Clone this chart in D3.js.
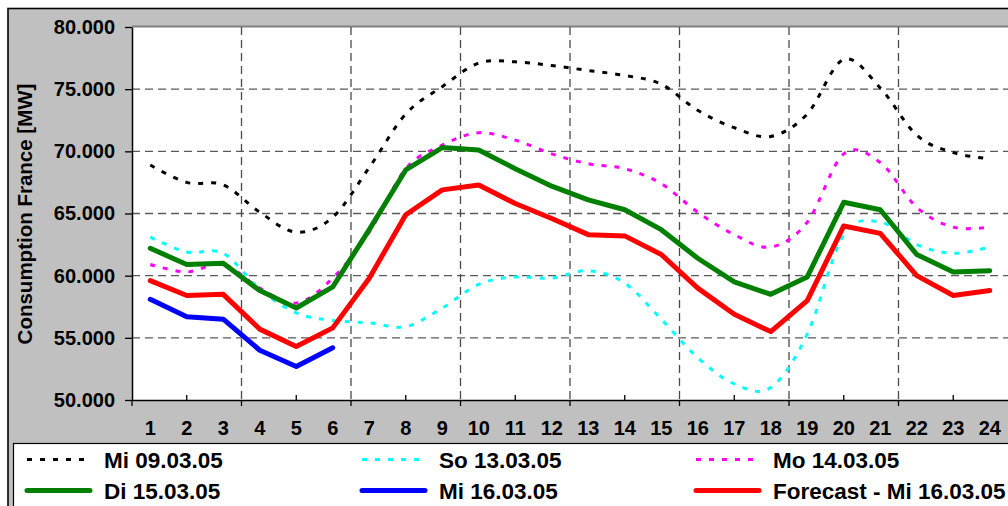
<!DOCTYPE html>
<html>
<head>
<meta charset="utf-8">
<script src="https://cdn.jsdelivr.net/npm/d3@7"></script>
<style>
  html, body { margin: 0; padding: 0; background: #fff; overflow: hidden; }
  svg { display: block; font-family: "Liberation Sans", Arial, sans-serif; font-weight: bold; }
</style>
</head>
<body>
<div id="container"></div>
<script>
// hours of the day
const hours = [1, 2, 3, 4, 5, 6, 7, 8, 9, 10, 11, 12, 13, 14, 15, 16, 17, 18, 19, 20, 21, 22, 23, 24];
const yTicks = [50000, 55000, 60000, 65000, 70000, 75000, 80000];

// consumption in MW
const mi0903 = [68900, 67500, 67300, 65100, 63500, 64700, 68700, 73000, 75200, 77100, 77200, 76900,
                76500, 76100, 75400, 73300, 71900, 71200, 73000, 77400, 75100, 71300, 69900, 69400];
const so1303 = [63100, 61900, 61800, 58900, 57000, 56400, 56200, 55900, 57400, 59300, 59900, 59800,
                60400, 59400, 56500, 53400, 51300, 51000, 55300, 63300, 64300, 62500, 61800, 62300];
const mo1403 = [60900, 60300, 60900, 59000, 57800, 59800, 63500, 68600, 70500, 71500, 70900, 69800,
                69000, 68600, 67400, 65100, 63300, 62300, 64300, 69800, 69100, 65500, 63900, 63900];
const di1503 = [62200, 60900, 61000, 58800, 57400, 59100, 63700, 68500, 70300, 70100, 68600, 67200,
                66100, 65300, 63700, 61400, 59500, 58500, 59900, 65900, 65300, 61700, 60300, 60400];
const mi1603 = [58100, 56700, 56500, 54000, 52700, 54200];
const forecast1603 = [59600, 58400, 58500, 55700, 54300, 55800, 59800, 64900, 66900, 67300, 65800, 64600,
                      63300, 63200, 61700, 59000, 56900, 55500, 58000, 64000, 63400, 60000, 58400, 58800];

const seriesNames = ["Mi 09.03.05", "So 13.03.05", "Mo 14.03.05", "Di 15.03.05", "Mi 16.03.05", "Forecast - Mi 16.03.05"];
const seriesValues = [mi0903, so1303, mo1403, di1503, mi1603, forecast1603];

const styles = [
    {color: "#000000", width: 3, dash: "5,8", smooth: true},
    {color: "#00ffff", width: 3, dash: "5,8", smooth: true},
    {color: "#ff00ff", width: 3, dash: "5,8", smooth: true},
    {color: "#008000", width: 5, dash: null, smooth: false},
    {color: "#0000ff", width: 5, dash: null, smooth: false},
    {color: "#ff0000", width: 5, dash: null, smooth: false}
];

const width = 1008;
const height = 506;
const plotLeft = 132;
const plotRight = 1008;
const plotTop = 27;
const plotBottom = 400;

const fmt = d3.formatLocale({decimal: ",", thousands: ".", grouping: [3], currency: ["", ""]}).format(",.0f");

const x = d3.scaleBand().domain(hours).range([plotLeft, plotRight]).padding(0);
const cx = h => x(h) + x.bandwidth() / 2;
const y = d3.scaleLinear([50000, 80000], [plotBottom, plotTop]);

const svg = d3.create("svg")
    .attr("width", width)
    .attr("height", height)
    .attr("viewBox", [0, 0, width, height]);

// grey chart background with black frame
svg.append("rect")
    .attr("x", 8).attr("y", 8.5)
    .attr("width", width + 10).attr("height", height + 10)
    .attr("fill", "#c0c0c0")
    .attr("stroke", "#000").attr("stroke-width", 1.6);

// plot area
svg.append("rect")
    .attr("x", plotLeft).attr("y", plotTop)
    .attr("width", plotRight - plotLeft + 5).attr("height", plotBottom - plotTop)
    .attr("fill", "#fff");
svg.append("line")
    .attr("x1", plotLeft).attr("x2", width)
    .attr("y1", plotTop - 0.5).attr("y2", plotTop - 0.5)
    .attr("stroke", "#808080").attr("stroke-width", 2);

// horizontal grid lines
svg.append("g")
    .selectAll("line")
    .data(yTicks.filter(d => d > 50000 && d < 80000))
    .join("line")
    .attr("x1", plotLeft).attr("x2", plotRight)
    .attr("y1", d => y(d)).attr("y2", d => y(d))
    .attr("stroke", "#5a5a5a").attr("stroke-width", 1.3)
    .attr("stroke-dasharray", "8,5");

// vertical grid lines every 3 hours (between categories)
const gridHours = hours.filter(h => h % 3 === 0 && h < 24);
svg.append("g")
    .selectAll("line")
    .data(gridHours)
    .join("line")
    .attr("x1", d => x(d) + x.bandwidth()).attr("x2", d => x(d) + x.bandwidth())
    .attr("y1", plotTop).attr("y2", plotBottom)
    .attr("stroke", "#4a4a4a").attr("stroke-width", 1.3)
    .attr("stroke-dasharray", "8,5");

// major ticks below the axis
svg.append("g")
    .selectAll("line")
    .data([0].concat(gridHours))
    .join("line")
    .attr("x1", d => d === 0 ? plotLeft : x(d) + x.bandwidth())
    .attr("x2", d => d === 0 ? plotLeft : x(d) + x.bandwidth())
    .attr("y1", plotBottom).attr("y2", plotBottom + 6)
    .attr("stroke", "#000").attr("stroke-width", 1.3);

// minor ticks inside, every 1.5 categories
svg.append("g")
    .selectAll("line")
    .data(hours.filter(h => h % 3 === 2))
    .join("line")
    .attr("x1", d => cx(d)).attr("x2", d => cx(d))
    .attr("y1", plotBottom - 5).attr("y2", plotBottom)
    .attr("stroke", "#000").attr("stroke-width", 1.3);

// x axis
svg.append("g")
    .attr("transform", `translate(0,${plotBottom})`)
    .call(d3.axisBottom(x).tickSize(0).tickPadding(21).tickSizeOuter(0))
    .call(g => g.select(".domain").attr("stroke", "#000").attr("stroke-width", 1.5))
    .call(g => g.selectAll("text")
        .attr("font-family", "Liberation Sans, Arial, sans-serif")
        .attr("font-weight", "bold")
        .attr("font-size", 20)
        .attr("fill", "#000"));

// y axis
svg.append("g")
    .attr("transform", `translate(${plotLeft},0)`)
    .call(d3.axisLeft(y).tickValues(yTicks).tickFormat(fmt).tickSize(7).tickPadding(10).tickSizeOuter(0))
    .call(g => g.select(".domain").attr("stroke", "#000").attr("stroke-width", 1.5))
    .call(g => g.selectAll(".tick line").attr("stroke", "#000").attr("stroke-width", 1.3))
    .call(g => g.selectAll("text")
        .attr("font-family", "Liberation Sans, Arial, sans-serif")
        .attr("font-weight", "bold")
        .attr("font-size", 20)
        .attr("fill", "#000"));

// y axis title
svg.append("text")
    .attr("transform", "translate(32,214) rotate(-90)")
    .attr("text-anchor", "middle")
    .attr("font-size", 20.5)
    .attr("fill", "#000")
    .text("Consumption France [MW]");

// series lines
seriesValues.forEach(function(values, i) {
    const s = styles[i];
    const line = d3.line()
        .x((d, j) => cx(hours[j]))
        .y(d => y(d))
        .curve(s.smooth ? d3.curveCatmullRom.alpha(0) : d3.curveLinear);
    svg.append("path")
        .attr("fill", "none")
        .attr("stroke", s.color)
        .attr("stroke-width", s.width)
        .attr("stroke-dasharray", s.dash)
        .attr("stroke-linejoin", "round")
        .attr("stroke-linecap", s.dash ? "butt" : "round")
        .attr("d", line(values));
});

// legend
svg.append("rect")
    .attr("x", 13.5).attr("y", 443.5)
    .attr("width", width).attr("height", 100)
    .attr("fill", "#fff")
    .attr("stroke", "#000").attr("stroke-width", 1.2);

const legendCols = [27, 362, 696];
const legendRows = [459.5, 490.5];
const legend = svg.append("g");
seriesNames.forEach(function(name, i) {
    const s = styles[i];
    const lx = legendCols[i % 3];
    const ly = legendRows[Math.floor(i / 3)];
    legend.append("line")
        .attr("x1", lx).attr("x2", lx + 63)
        .attr("y1", ly).attr("y2", ly)
        .attr("stroke", s.color)
        .attr("stroke-width", s.width)
        .attr("stroke-dasharray", s.dash)
        .attr("stroke-linecap", s.dash ? "butt" : "round");
    legend.append("text")
        .attr("x", lx + 77)
        .attr("y", ly + 8.5)
        .attr("font-size", 22.5)
        .attr("fill", "#000")
        .text(name);
});

document.getElementById("container").append(svg.node());
</script>
</body>
</html>
